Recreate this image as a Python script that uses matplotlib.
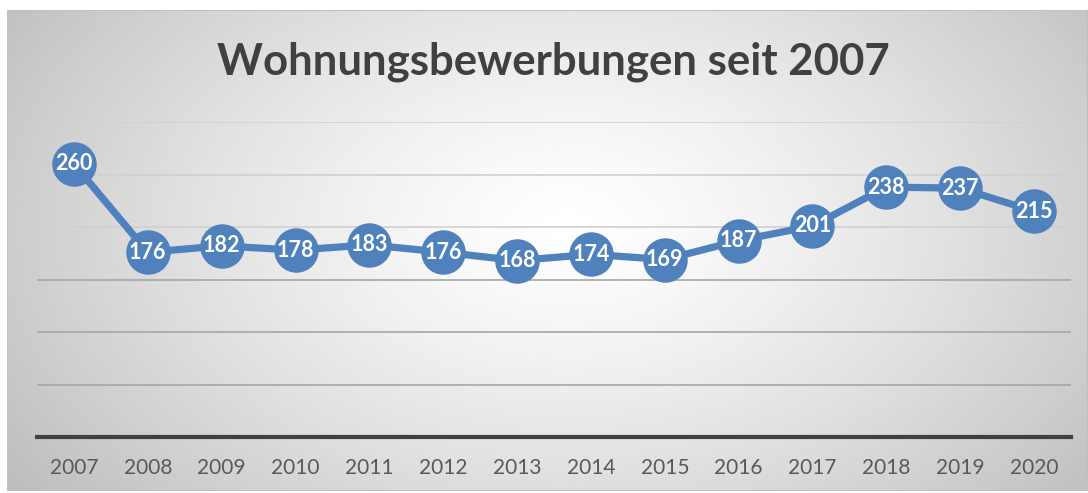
import numpy as np
import matplotlib
matplotlib.use("Agg")
import matplotlib.pyplot as plt
from matplotlib.patches import Rectangle

years = ["2007", "2008", "2009", "2010", "2011", "2012", "2013",
         "2014", "2015", "2016", "2017", "2018", "2019", "2020"]
applications = [260, 176, 182, 178, 183, 176, 168, 174, 169, 187, 201, 238, 237, 215]

BLUE = "#4F81BD"
plt.rcParams["font.family"] = ["Lato", "DejaVu Sans"]

W, H = 1088, 493
fig = plt.figure(figsize=(W / 100, H / 100), dpi=100)
fig.patch.set_facecolor("white")

# chart box with radial grey gradient
bx0, by0, bx1, by1 = 7, 10, 1088, 491
bg = fig.add_axes([bx0 / W, 1 - by1 / H, (bx1 - bx0) / W, (by1 - by0) / H])
gx, gy = np.meshgrid(np.linspace(0, 1, 400), np.linspace(0, 1, 200))
r = np.sqrt(((gx - 0.52) / 0.62) ** 2 + ((gy - 0.45) / 0.9) ** 2)
shade = 1.0 - 0.25 * np.clip(r, 0, 1.15) ** 1.3
bg.imshow(shade, cmap="gray", vmin=0, vmax=1, aspect="auto",
          extent=[0, 1, 0, 1], interpolation="bilinear")
bg.add_patch(Rectangle((0, 0), 1, 1, transform=bg.transAxes, fill=False,
                       edgecolor="#bfbfbf", linewidth=1.5))
bg.set_axis_off()

ax = fig.add_axes([37 / W, 1 - 437 / H, (1071 - 37) / W, (437 - 122) / H])
ax.patch.set_alpha(0)
x = np.arange(len(years))
ax.set_xlim(-0.5, len(years) - 0.5)
ax.set_ylim(0, 300)

for yv in range(50, 301, 50):
    ax.axhline(yv, color="#d0d0d0" if yv > 150 else "#a6a6a6", linewidth=1.2, zorder=1)
ax.axhline(0, color="#404040", linewidth=3, zorder=2, clip_on=False)

ax.plot(x, applications, color=BLUE, linewidth=5.2, marker="o",
        markersize=31, markerfacecolor=BLUE, markeredgecolor=BLUE, zorder=3)
for xi, v in zip(x, applications):
    ax.text(xi, v, str(v), ha="center", va="center", color="white",
            fontsize=15.5, fontweight="bold", zorder=4)

for s in ax.spines.values():
    s.set_visible(False)
ax.set_yticks([])
ax.set_xticks(x)
ax.set_xticklabels(years, fontsize=15, color="#595959")
ax.tick_params(axis="x", length=0, pad=15)

fig.text(553 / W, 1 - 62 / H, "Wohnungsbewerbungen seit 2007", ha="center",
         va="center", fontsize=31.5, fontweight="bold", color="#404040")

fig.savefig("out.png", dpi=100)
